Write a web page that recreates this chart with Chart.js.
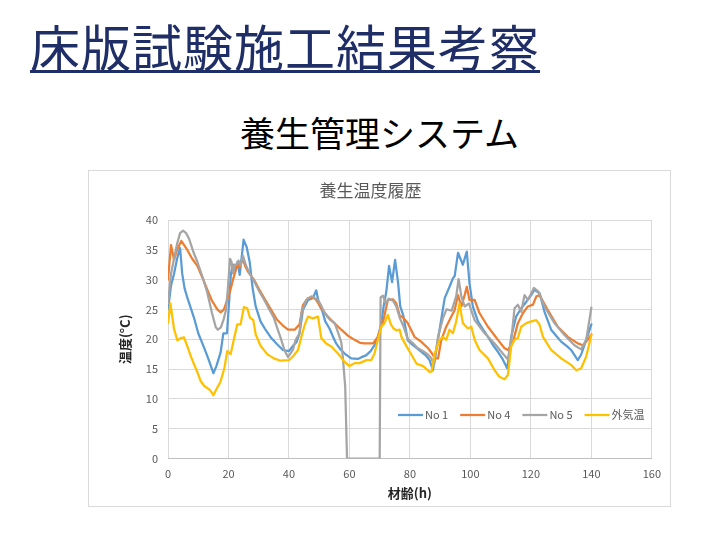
<!DOCTYPE html>
<html>
<head>
<meta charset="utf-8">
<script src="https://cdn.jsdelivr.net/npm/chart.js@4.4.0/dist/chart.umd.min.js"></script>
<style>
  html, body { margin: 0; padding: 0; background: #ffffff; }
  body { width: 720px; height: 539px; position: relative; overflow: hidden; font-family: "Noto Sans CJK JP", "Noto Sans", sans-serif; }
  #title { position: absolute; left: 30px; top: 20px; font-size: 50px; line-height: 50px; color: #1f2e66; letter-spacing: 1px; white-space: nowrap; border-bottom: 3px solid #1f2e66; }
  #subtitle { position: absolute; left: 240px; top: 114px; font-size: 35px; line-height: 35px; color: #000000; white-space: nowrap; }
  #box { position: absolute; left: 88px; top: 170px; width: 583px; height: 337px; border: 1px solid #d9d9d9; box-sizing: border-box; background: #ffffff; }
  #chart { display: block; }
</style>
</head>
<body>
<div id="title">床版試験施工結果考察</div>
<div id="subtitle">養生管理システム</div>
<div id="box"><canvas id="chart" width="581" height="335"></canvas></div>
<script>
// ---- data (hours / temperature °C) ----
const seriesLabels = ['No 1', 'No 4', 'No 5', '外気温'];

const no1Hours = [0,1,2,3,4,4.7,5.5,6.5,8.6,10,12,13.5,15,16,17.4,18.3,19.5,20.3,20.8,21.5,22.3,23,23.7,24.2,25,26,27,28,29,30.6,32,34,36,38,40,41.5,42.5,43.5,44.6,46.3,47.5,48,49,50,51,52,53.4,54.5,55.6,57,58.4,60.6,62.8,64,65.5,67,68.3,69.4,70.5,71.3,72.2,73.1,74.1,75.1,76.1,76.8,77.8,79.3,81,83,85.4,86.5,87.6,88.7,89.8,91.5,93.1,94.2,94.8,95.9,97.5,98.8,99.7,100.8,102.5,104,105.8,107.5,109.1,110.5,111.3,112.2,113.5,115.1,116.8,118.5,120.1,121.2,122.9,124.5,126.7,128.5,130,132,133.3,135.5,136.6,138.3,140];
const no1Temps = [25,29,31,33.5,35.3,31,28.5,26.8,23.6,21,18.5,16.5,14.3,15.5,17.8,21,21,27,31,32.5,31.5,33,30.8,33,36.7,35.5,33,28.5,25.5,23,21.8,20.3,19.2,18.2,18,19,19.5,21,24.9,26.6,26.8,27,28.2,25.8,24.8,23,21.8,20.5,19.3,18.3,17.6,16.8,16.7,17,17.3,18,19,20.4,22.5,25.5,28,32.3,29.6,33.3,29.4,25.5,24,19.8,19,18.2,17.2,16.5,14.8,18.2,21.6,26.9,28.8,30.2,30.6,34.5,32.5,34.7,29.4,25.5,23,21.8,20.4,19,17.9,16.8,16,15.1,20.4,23.8,25.2,26.3,27.4,28.3,27.7,24.6,21.6,20.5,19.6,18.8,18.2,16.5,17.4,19.9,22.5];

const no4Hours = [0,1,2,3,4.4,6,8,9.7,11.5,13,14.5,16.3,17.4,18.5,19.5,20.5,21.5,22.4,23,23.7,24.3,25,25.5,26.5,28.4,30,31.7,34,36,38,39.7,41.9,43.5,44.6,46.3,48,49,50.7,52.5,54,57.3,59.5,61.7,63.5,65,67.8,69.4,71.1,72.7,74.4,75.5,76.6,78,79.3,81.5,83.7,86,87.6,88.2,89.3,90.4,92,93.7,94.8,95.9,97,98.1,98.8,99.7,101.4,103,105.8,109.1,111.3,112.4,114.1,115.7,117.4,119,120.7,121.8,122.9,123.4,125.6,128.9,132.2,135.5,137.2,138.8,140];
const no4Temps = [30,35.8,33.3,35,36.5,35.3,33.5,32.3,30.2,28.3,26.5,25,24.5,25,26.5,28,30,31.6,32.5,32,33,33,32.3,31.3,30,28.5,27,25,23.3,22.3,21.6,21.6,22.5,25.7,26.9,27,26.6,25.2,24,23.2,21.6,20.6,19.9,19.4,19.3,19.3,20.4,22.9,26.6,26.7,26,24,23.5,22.7,20.4,19.6,18.5,17.4,16.8,16.8,19.9,22.1,23.8,24.9,27.4,25.5,27.4,28.8,26.6,26.6,24.4,22.1,19.9,18.5,18.2,19.6,22.7,24.4,25.5,25.8,27.2,27.4,26.9,24.9,22.1,20.4,19.3,19,19.9,20.8];

const no5Hours = [0,1,2,3,4,5,6,7,8.5,9.7,11.5,13,14.5,15.8,16.5,17.5,18.5,19.2,19.8,20.5,21,21.5,22,22.7,23.3,24,24.8,25.7,27,27.9,30,31.7,33.5,35,36.3,37.2,38.5,39.7,41.3,42.2,43.5,44.1,45.7,47.4,49.6,50.7,51.8,53.5,55.1,56.2,57.3,57.8,58.6,59.2,70,70.3,71.1,72,73,74.5,75.5,76.7,78,79.3,81.1,82.6,84.4,86,87.1,88,89.3,90.9,92.1,93.8,95.3,96.1,97,98.1,99.5,101.4,104.7,108,110.7,112.4,113.5,114.6,115.7,116.8,117.9,119,121,122.5,124.5,127.8,131.1,134.4,136.6,138.3,140];
const no5Temps = [26,31,33.5,36,37.8,38.2,37.8,36.8,34.5,33,30.3,27.8,24.5,22,21.6,22,23.5,25,28.5,33.5,33,31,32.5,32.5,33.2,32.4,34,32.5,31,30.3,28.2,26.7,25,23.6,21.6,20.3,18.2,17,18.2,19.9,21,24.4,26.6,27.2,26.6,25.6,24.4,23.3,22.7,21.2,19.5,17.1,12,0,0,27,27.3,26,26.8,26.4,25.5,23.5,22,20,19.3,18.5,18,17.4,16.8,15.7,20.4,23.5,25,24.8,27.2,30.1,27.2,25.5,26,23.2,21,19.3,17.6,16.6,19.9,25.2,25.8,24.6,27.4,26.6,28.6,28,25.5,22.7,20.7,19,18.3,19.9,25.3];

const airHours = [0,0.8,2,3.1,4.2,5.3,6.4,7.5,8.6,9.7,10.8,11.9,13.6,14.3,15,16.3,17.3,18,18.7,19.6,20.7,21.8,22.9,24,25.1,26.2,27.1,28.2,29,30.6,32.8,35,37.2,40,41.3,43,44.1,45.2,46.3,47.9,49.6,50.7,52.3,54,56.2,58.4,60,61.7,63.4,65.6,67.2,68.3,69.4,70.5,71.6,72.7,73.7,74.6,75.5,76.6,77.2,78.9,80.5,82.2,84.4,86.6,87.2,88.2,89.8,90.9,92,93.1,94.2,95.3,96.4,97.5,99.2,100.3,101.4,103,105.8,108,109.6,111.3,112.4,113.5,114.6,115.7,116.8,118.5,120.1,121.8,122.9,124,126.7,130,133.3,135,136.6,138.3,140];
const airTemps = [22.7,26,21.7,19.8,20.2,20.3,18.8,17.2,15.8,14.5,13,12.2,11.6,11.2,10.6,11.9,12.8,14,15.3,18,17.5,20,22.5,22.5,25.4,25.2,23.6,23.2,20.8,18.9,17.5,16.8,16.4,16.5,17.1,18.2,20.4,22.4,23.8,23.5,23.8,20.2,19.3,18.8,17.6,16.2,15.5,16,16,16.5,16.5,17.6,19.9,22.1,22.7,24.1,22.5,21.8,21.5,21.6,20.4,18.8,17.4,15.9,15.5,14.5,14.6,17.6,19.9,20.4,19.9,21.6,21,23,26,22.7,21.8,22.1,19.9,18.2,16.8,14.8,13.7,13.3,14,18.8,19.9,20.2,22.1,22.7,23,23.2,22.4,20.4,18.2,16.8,15.7,14.8,15.1,17.1,20.7];

const xTickMin = 0, xTickMax = 160, xTickStep = 20;
const yTickMin = 0, yTickMax = 40, yTickStep = 5;

// ---- build chart ----
const seriesHours = [no1Hours, no4Hours, no5Hours, airHours];
const seriesTemps = [no1Temps, no4Temps, no5Temps, airTemps];
const seriesColors = ['#5b9bd5', '#ed7d31', '#a5a5a5', '#ffc000'];
const drawOrder = [3, 2, 1, 0];

const fontFamily = '"Noto Sans CJK JP", "Noto Sans", sans-serif';
Chart.defaults.font.family = fontFamily;

const datasets = seriesLabels.map((label, i) => ({
  label: label,
  data: seriesHours[i].map((h, k) => ({ x: h, y: seriesTemps[i][k] })),
  borderColor: seriesColors[i],
  backgroundColor: seriesColors[i],
  borderWidth: 2.25,
  pointRadius: 0,
  pointHoverRadius: 0,
  tension: 0,
  fill: false,
  order: drawOrder[i],
  borderJoinStyle: 'round',
  borderCapStyle: 'round'
}));

const insideLegend = {
  id: 'insideLegend',
  afterDraw(chart) {
    const { ctx, chartArea } = chart;
    ctx.save();
    ctx.font = '11px ' + fontFamily;
    ctx.textBaseline = 'middle';
    ctx.textAlign = 'left';
    let x = chartArea.left + 230;
    const y = chartArea.bottom - 43.5;
    chart.data.datasets.forEach(ds => {
      ctx.strokeStyle = ds.borderColor;
      ctx.lineWidth = 2.25;
      ctx.beginPath();
      ctx.moveTo(x, y);
      ctx.lineTo(x + 25, y);
      ctx.stroke();
      x += 27;
      ctx.fillStyle = '#595959';
      ctx.fillText(ds.label, x, y);
      x += ctx.measureText(ds.label).width + 12;
    });
    ctx.restore();
  }
};

new Chart(document.getElementById('chart'), {
  type: 'line',
  data: { datasets: datasets },
  plugins: [insideLegend],
  options: {
    responsive: false,
    animation: false,
    devicePixelRatio: 1,
    parsing: true,
    layout: { padding: { left: 0, right: 18, top: 0, bottom: 0 } },
    plugins: {
      legend: { display: false },
      tooltip: { enabled: false },
      title: {
        display: true,
        text: '養生温度履歴',
        color: '#595959',
        font: { size: 17, weight: 'normal' },
        padding: { top: 9, bottom: 19.6 }
      }
    },
    scales: {
      x: {
        type: 'linear',
        min: xTickMin,
        max: xTickMax,
        ticks: { stepSize: xTickStep, color: '#595959', font: { size: 11 }, padding: 9, maxRotation: 0 },
        grid: { color: '#d9d9d9', lineWidth: 1, drawTicks: false },
        border: { color: '#bfbfbf' },
        title: { display: true, text: '材齢(h)', color: '#262626', font: { size: 13, weight: 'bold' }, padding: { top: 0, bottom: 5.5 } },
        afterFit(scale) { scale.height = 47.5; }
      },
      y: {
        type: 'linear',
        min: yTickMin,
        max: yTickMax,
        ticks: { stepSize: yTickStep, color: '#595959', font: { size: 11 }, padding: 10 },
        grid: { color: '#d9d9d9', lineWidth: 1, drawTicks: false },
        border: { display: false },
        title: { display: true, text: '温度(°C)', color: '#262626', font: { size: 13, weight: 'bold' }, padding: { top: 28.7, bottom: 0 } },
        afterFit(scale) { scale.width = 79; }
      }
    }
  }
});
</script>
</body>
</html>
